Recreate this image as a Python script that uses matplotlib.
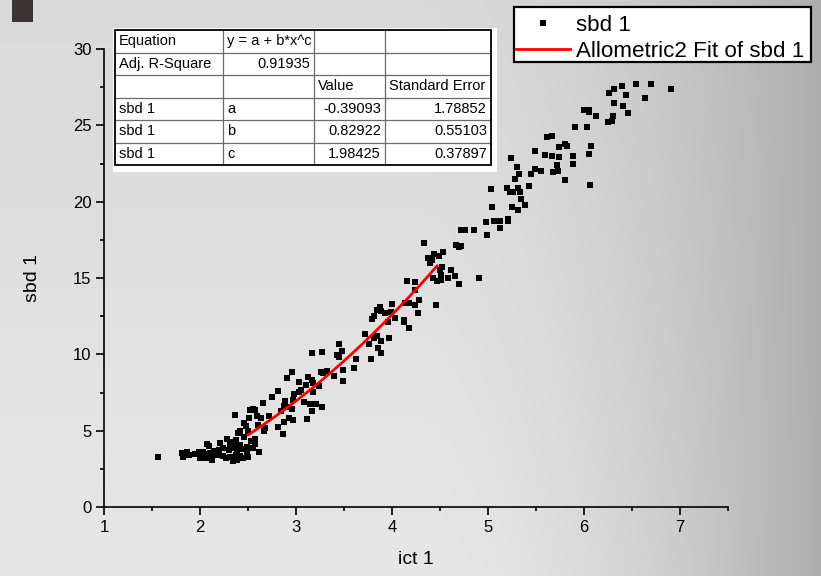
import numpy as np
import matplotlib
matplotlib.use("Agg")
import matplotlib.pyplot as plt
from matplotlib.patches import Rectangle
from matplotlib.lines import Line2D

plt.rcParams['font.family'] = ['Liberation Sans', 'DejaVu Sans']

W, H, DPI = 821, 576, 100

# ---- measured data -------------------------------------------------------
ict = [
    6.54, 6.70, 6.91, 6.40, 6.31, 6.26, 6.44, 6.64, 6.31, 6.41, 6.46, 6.30, 6.25, 6.29,
    6.13, 6.00, 6.05, 6.05, 5.91, 6.03, 5.61, 5.67,
    5.80, 5.82, 5.74, 6.07, 5.49, 5.59, 5.67, 5.74, 5.89, 6.05, 5.24, 5.72, 5.89, 5.30,
    5.49, 5.55, 5.68, 5.73, 5.45, 5.32, 5.28, 5.80, 6.06, 5.43, 5.03, 5.20, 5.31, 5.23,
    5.26, 5.33, 5.34, 5.39, 5.04, 5.25, 5.31, 4.98, 5.06, 5.13, 5.21, 5.21, 5.12, 4.85, 4.99,
    4.72, 4.76, 4.33, 4.67, 4.70, 4.72, 4.53, 4.44, 4.49, 4.38, 4.42, 4.40, 4.52, 4.50,
    4.61, 4.51, 4.43, 4.58, 4.66, 4.91, 4.47, 4.51, 4.70, 4.16, 4.24, 4.24, 4.28, 4.18,
    4.14, 4.24, 4.46, 4.00, 3.87, 3.84, 3.89, 3.99, 3.93, 4.27, 3.81, 3.79, 4.03, 3.96,
    4.12, 4.12, 4.18, 3.72, 3.84, 3.81, 3.89, 3.97, 3.76, 3.85,
    3.45, 3.17, 3.27, 3.26, 3.32, 3.28, 3.40, 2.96, 2.91, 3.12, 3.03, 3.17, 3.18, 3.24,
    3.10, 3.05, 3.03, 3.18, 2.81, 2.98, 2.75, 2.97, 2.89, 3.08, 3.15, 3.21, 2.66, 2.87,
    2.93, 3.27, 2.96, 2.55, 2.52, 2.57, 3.17, 2.84, 2.36, 2.59, 2.72, 2.51, 2.64, 2.93,
    2.97, 3.11, 2.60, 2.46, 2.48, 2.87, 2.81, 2.68, 3.48, 3.45, 3.43, 3.63, 3.89, 3.78,
    3.60, 3.49, 3.49,
    2.67, 2.86, 2.40, 2.42, 2.50, 2.46, 2.28, 2.31, 2.37, 2.38, 2.57, 2.53, 2.07, 2.09,
    2.21, 2.31, 2.42, 2.49, 2.57, 2.55, 2.61, 1.81, 1.82, 1.86, 1.89, 1.95, 1.99, 2.03,
    2.02, 2.07, 2.10, 2.15, 2.20, 2.24, 2.30, 2.35, 2.39, 2.43, 2.49, 2.03, 2.09, 2.12,
    2.19, 2.24, 2.27, 2.31, 2.37, 2.42, 2.45, 2.50, 2.34, 2.39, 2.13, 2.00, 1.56,
]
sbd = [
    27.73, 27.68, 27.38, 27.55, 27.40, 27.11, 26.98, 26.77, 26.44, 26.26, 25.79, 25.61, 25.22, 25.26,
    25.59, 25.98, 25.98, 25.85, 24.89, 24.91, 24.21, 24.30,
    23.80, 23.65, 23.58, 23.65, 23.32, 23.04, 23.02, 22.91, 22.99, 23.10, 22.84, 22.40, 22.45, 22.27,
    22.14, 21.99, 21.92, 22.01, 21.81, 21.79, 21.49, 21.40, 21.09, 21.03, 20.81, 20.90, 20.90, 20.66,
    20.66, 20.63, 20.16, 19.76, 19.68, 19.65, 19.46, 18.70, 18.72, 18.74, 18.87, 18.72, 18.26, 18.17, 17.80,
    18.13, 18.13, 17.30, 17.13, 17.04, 17.08, 16.71, 16.56, 16.45, 16.28, 16.21, 15.99, 15.69, 15.51,
    15.51, 15.18, 15.03, 15.01, 15.12, 15.03, 14.79, 14.84, 14.61, 14.79, 14.77, 14.20, 13.55, 13.37,
    13.33, 13.24, 13.20, 13.30, 13.07, 12.89, 12.85, 12.78, 12.72, 12.68, 12.50, 12.32, 12.39, 12.13,
    12.24, 12.11, 11.73, 11.34, 11.19, 11.04, 10.88, 11.04, 10.69, 10.43,
    10.69, 10.12, 10.14, 8.84, 8.88, 8.75, 8.57, 8.82, 8.46, 8.53, 8.18, 8.29, 8.10, 7.94,
    7.96, 7.66, 7.55, 7.53, 7.59, 7.38, 7.18, 7.00, 6.92, 6.87, 6.74, 6.72, 6.83, 6.61,
    6.56, 6.52, 6.39, 6.39, 6.33, 6.35, 6.30, 6.28, 6.00, 5.98, 5.96, 5.80, 5.80, 5.84,
    5.69, 5.76, 5.37, 5.48, 5.30, 5.56, 5.24, 5.19, 10.23, 9.80, 9.93, 9.71, 10.08, 9.69,
    9.10, 8.97, 8.27,
    4.95, 4.80, 4.86, 4.95, 4.97, 4.60, 4.43, 4.27, 4.38, 4.17, 4.47, 4.32, 4.12, 3.99,
    4.17, 3.99, 4.06, 3.95, 4.12, 3.84, 3.62, 3.55, 3.29, 3.62, 3.40, 3.45, 3.62, 3.62,
    3.40, 3.47, 3.55, 3.68, 3.73, 3.84, 3.73, 3.84, 3.73, 3.78, 3.58, 3.19, 3.19, 3.29,
    3.40, 3.34, 3.19, 3.29, 3.40, 3.34, 3.19, 3.29, 3.03, 3.08, 3.08, 3.19, 3.27,
]

# Allometric2 fit parameters: y = a + b*x^c
param_names = ['a', 'b', 'c']
param_values = [-0.39093, 0.82922, 1.98425]
param_errors = [1.78852, 0.55103, 0.37897]
adj_r2 = 0.91935
fit_range = (2.50, 4.47)

x_ticks = [1, 2, 3, 4, 5, 6, 7]
y_ticks = [0, 5, 10, 15, 20, 25, 30]

# ---- figure --------------------------------------------------------------
fig = plt.figure(figsize=(W / DPI, H / DPI), dpi=DPI)


def fx(px):
    return px / W


def fy(py):
    return 1 - py / H


# shaded backdrop: light toward lower-left, darker toward the right edge
bg = fig.add_axes([0, 0, 1, 1], zorder=-10)
uu, ww = np.meshgrid(np.linspace(0, 1, 410), np.linspace(0, 1, 288))
s = np.clip((uu - 0.5) / 0.5, 0, 1) ** 1.8
shade = 231 - 58 * s - 14 * (1 - ww) * (1 - s)
bg.imshow(np.dstack([shade] * 3) / 255.0, aspect='auto', extent=[0, 1, 0, 1],
          origin='upper', interpolation='bilinear')
bg.set_axis_off()

# small dark block in the corner
fig.add_artist(Rectangle((fx(12), fy(22)), fx(21), 22 / H, transform=fig.transFigure,
                         facecolor='#3b3633', edgecolor='none'))

ax = fig.add_axes([fx(104), fy(507), fx(728) - fx(104), (507 - 49) / H])
ax.set_facecolor('none')

ax.plot(ict, sbd, linestyle='none', marker='s', markersize=4.0, color='black',
        markeredgewidth=0, label='sbd 1', zorder=3)

a, b, c = param_values
xf = np.linspace(fit_range[0], fit_range[1], 200)
ax.plot(xf, a + b * xf ** c, color='#ff0000', linewidth=2.0,
        label='Allometric2 Fit of sbd 1', zorder=4)

ax.set_xlim(1, 7.5)
ax.set_ylim(0, 30)
ax.set_xticks(x_ticks)
ax.set_yticks(y_ticks)
ax.set_xticks(np.arange(1.5, 7.51, 1.0), minor=True)
ax.set_yticks(np.arange(2.5, 30, 5.0), minor=True)
for sp in ['top', 'right']:
    ax.spines[sp].set_visible(False)
for sp in ['left', 'bottom']:
    ax.spines[sp].set_linewidth(1.2)
ax.tick_params(which='major', direction='out', length=5.5, width=1.2, labelsize=12, pad=3.5)
ax.tick_params(which='minor', direction='out', length=3, width=1.2)
ax.set_xlabel('ict 1', fontsize=14, labelpad=12)
ax.set_ylabel('sbd 1', fontsize=14, labelpad=23)

# legend: box drawn separately so its padding can differ per side
fig.add_artist(Rectangle((fx(514), fy(62)), fx(811) - fx(514), (62 - 7) / H,
                         transform=fig.transFigure, facecolor='white', edgecolor='black',
                         linewidth=1.6, zorder=5))
handles, labels = ax.get_legend_handles_labels()
leg = fig.legend(handles, labels, loc='upper left', bbox_to_anchor=(fx(516), fy(15)),
                 bbox_transform=fig.transFigure, fontsize=16.1, frameon=False,
                 borderaxespad=0, borderpad=0, labelspacing=0.22,
                 handlelength=2.4, handletextpad=0.3)
leg.set_zorder(6)

# fit-result table
col_edges = [115, 223, 314, 385, 491]
row_top, row_h = 30, 22.5
table_rows = [
    ['Equation', 'y = a + b*x^c', '', ''],
    ['Adj. R-Square', f'{adj_r2:.5f}', '', ''],
    ['', '', 'Value', 'Standard Error'],
] + [['sbd 1', n, f'{v:.5f}', f'{e:.5f}'] for n, v, e in zip(param_names, param_values, param_errors)]
n_rows = len(table_rows)
row_bottom = row_top + n_rows * row_h

fig.add_artist(Rectangle((fx(113), fy(172)), fx(497) - fx(113), (172 - 28) / H,
                         transform=fig.transFigure, facecolor='white', edgecolor='none', zorder=5))
for i in range(1, n_rows):
    yy = fy(row_top + i * row_h)
    fig.add_artist(Line2D([fx(col_edges[0]), fx(col_edges[-1])], [yy, yy], transform=fig.transFigure,
                          color='#6a6a6a', linewidth=0.9, zorder=6))
for j in range(1, len(col_edges) - 1):
    xx = fx(col_edges[j])
    fig.add_artist(Line2D([xx, xx], [fy(row_top), fy(row_bottom)], transform=fig.transFigure,
                          color='#6a6a6a', linewidth=0.9, zorder=6))
fig.add_artist(Rectangle((fx(col_edges[0]), fy(row_bottom)), fx(col_edges[-1]) - fx(col_edges[0]),
                         (row_bottom - row_top) / H, transform=fig.transFigure,
                         facecolor='none', edgecolor='black', linewidth=1.3, zorder=7))

for i, row in enumerate(table_rows):
    yc = fy(row_top + (i + 0.5) * row_h)
    for j, txt in enumerate(row):
        if not txt:
            continue
        numeric = txt[0].isdigit() or txt[0] == '-'
        if numeric:
            xt, ha = fx(col_edges[j + 1] - 4), 'right'
        else:
            xt, ha = fx(col_edges[j] + 4), 'left'
        fig.text(xt, yc, txt, ha=ha, va='center', fontsize=10.5, zorder=8)

fig.savefig('out.png', dpi=DPI)
